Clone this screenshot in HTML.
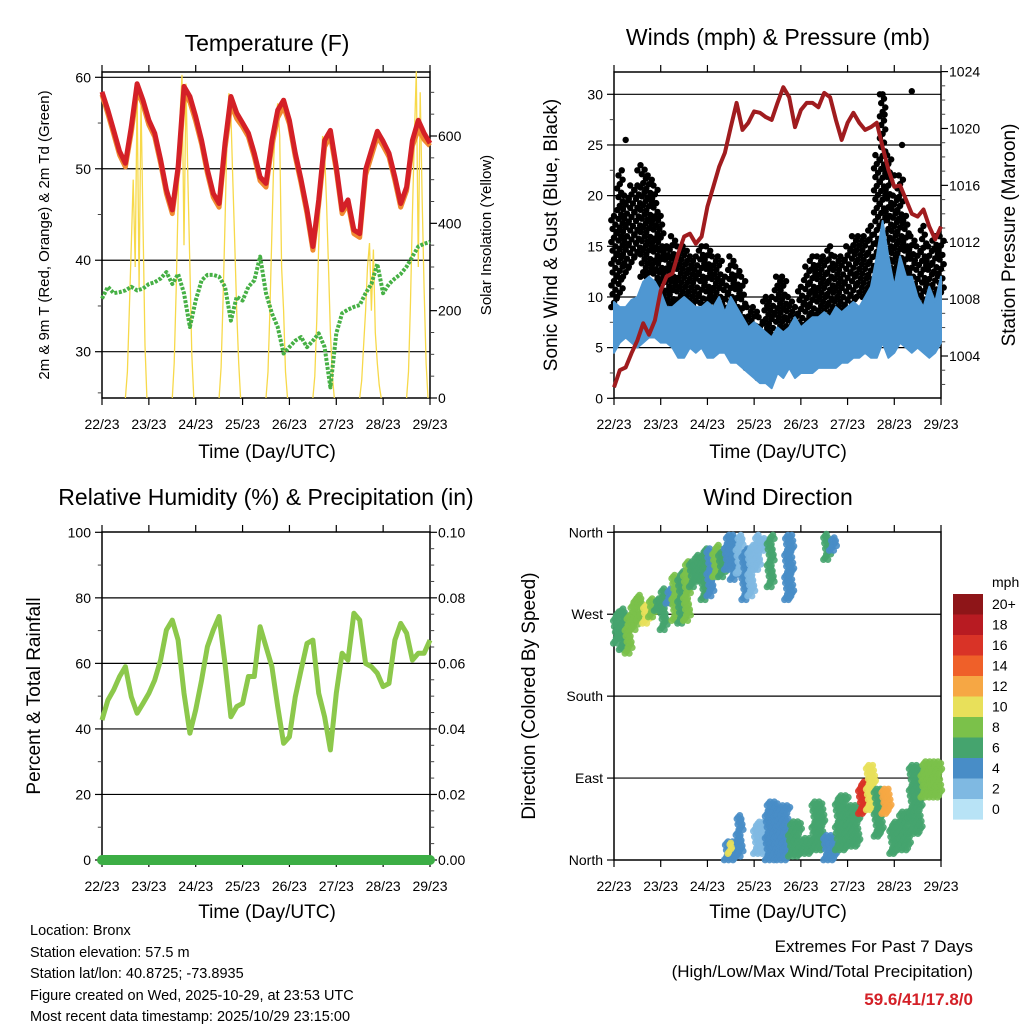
<!DOCTYPE html>
<html><head><meta charset="utf-8"><style>
html,body{margin:0;padding:0;background:#fff;}
svg{display:block;font-family:"Liberation Sans",sans-serif;}
</style></head><body>
<svg id="s" width="1024" height="1024" viewBox="0 0 1024 1024" xmlns="http://www.w3.org/2000/svg">
<g font-size="23" text-anchor="middle" fill="#000">
<text x="267" y="51">Temperature (F)</text>
<text x="778" y="45">Winds (mph) &amp; Pressure (mb)</text>
<text x="266" y="505">Relative Humidity (%) &amp; Precipitation (in)</text>
<text x="778" y="505">Wind Direction</text>
</g>
<g font-size="19" text-anchor="middle">
<text x="267" y="458">Time (Day/UTC)</text>
<text x="778" y="458">Time (Day/UTC)</text>
<text x="267" y="918">Time (Day/UTC)</text>
<text x="778" y="918">Time (Day/UTC)</text>
<text transform="translate(49,235) rotate(-90)" font-size="15">2m &amp; 9m T (Red, Orange) &amp; 2m Td (Green)</text>
<text transform="translate(491,235) rotate(-90)" font-size="15">Solar Insolation (Yellow)</text>
<text transform="translate(557,235) rotate(-90)">Sonic Wind &amp; Gust (Blue, Black)</text>
<text transform="translate(1015,235) rotate(-90)">Station Pressure (Maroon)</text>
<text transform="translate(40,696) rotate(-90)">Percent &amp; Total Rainfall</text>
<text transform="translate(535,696) rotate(-90)">Direction (Colored By Speed)</text>
</g>
<g font-size="14.5">
<text x="30" y="935">Location: Bronx</text>
<text x="30" y="957">Station elevation: 57.5 m</text>
<text x="30" y="978">Station lat/lon: 40.8725; -73.8935</text>
<text x="30" y="1000">Figure created on Wed, 2025-10-29, at 23:53 UTC</text>
<text x="30" y="1021">Most recent data timestamp: 2025/10/29 23:15:00</text>
</g>
<g font-size="17" text-anchor="end">
<text x="973" y="952">Extremes For Past 7 Days</text>
<text x="973" y="977">(High/Low/Max Wind/Total Precipitation)</text>
<text x="973" y="1005" fill="#d42027" font-weight="bold">59.6/41/17.8/0</text>
</g>
<g id="layer"></g>
</svg>
<script>
const dayLabels=["22/23","23/23","24/23","25/23","26/23","27/23","28/23","29/23"];
const tempRed=[58.4,56.4,54.2,51.9,50.6,54.6,59.3,57.5,55.3,53.9,51,47.7,45.5,50.2,59,57.9,55.7,53.1,49.9,47.3,46.2,52.8,57.9,56.1,55,53.9,51.7,49.1,48.4,53.1,56.4,57.5,55.3,51.7,48.8,45.5,41.5,46.6,53.1,54.2,50.2,45.5,46.6,43.3,42.9,49.9,52,54.1,53,51.7,49.1,46.2,48,53.1,55.3,53.9,52.8];
const tempOrange=[58.1,56,53.8,51.5,50.2,54,58.6,57,54.8,53.5,50.6,47.3,45.1,49.8,58.2,57.3,55.2,52.7,49.5,46.9,45.8,52.2,57.1,55.5,54.6,53.5,51.3,48.7,48,52.5,55.6,56.8,54.9,51.3,48.4,45.1,41.1,46.1,52.4,53.6,49.8,45.1,46.2,42.9,42.5,49.3,51.4,53.5,52.5,51.3,48.7,45.8,47.6,52.5,54.3,53.2,52.5];
const dewpoint=[35.8,37.1,36.4,36.5,36.7,37.1,36.7,36.9,37.4,37.6,38,38.7,37.4,38.5,36.4,32.7,35.6,37.8,38.4,38.4,38.2,37.1,33.4,36,35.6,37.1,37.8,40.4,36.4,34.2,32.7,29.8,30.5,31.2,31.6,30.5,31.2,32,30.5,26.1,32,34.2,34.6,34.9,35.1,36.4,37.4,39.6,36.4,37.4,38,38.5,39.3,40.4,41.5,41.8,42];
const solarHours=[12,13,14,15,16,17,18,19,20,21,22,23];
const solarDay0=[0,60,200,350,500,300,700,250,680,400,120,0];
const solarDay1=[0,80,250,450,650,740,350,720,500,300,100,0];
const solarDay2=[0,70,220,400,600,698,650,500,350,200,80,0];
const solarDay3=[0,60,200,380,550,640,675,600,300,200,60,0];
const solarDay4=[0,50,180,350,500,600,560,450,300,150,50,0];
const solarDay5=[0,40,120,200,300,355,200,340,150,80,30,0];
const solarDay6=[0,60,220,420,600,748,300,700,450,250,80,0];
const pressure=[1001.8,1003,1003.2,1004.2,1005.1,1006.3,1005.5,1006.5,1008.6,1009.6,1009.8,1011.2,1012.4,1012.6,1011.9,1012.4,1014.5,1015.9,1017.3,1018.3,1020.1,1021.8,1019.9,1020.4,1021.2,1021.1,1020.8,1020.6,1021.8,1022.9,1022.2,1020.1,1021.3,1021.8,1021.8,1021.5,1022.5,1022.2,1020.6,1019.2,1020.4,1021.1,1020.4,1019.9,1020.1,1020.4,1018.7,1017.1,1015.9,1016,1015,1014,1013.8,1014.3,1013.1,1012.2,1013.1];
const windHigh=[9.5,9,9,9.7,10,11.5,12,11.5,10.5,9,9,9.5,10,9.5,9,9,9.5,9,10,8.5,10,9,8,7,7.5,7,6.5,6,7,6.5,7,8,7,7.5,8,8,8.5,8,9,8.5,9,9.5,9,10,11,14,17.5,14,11,14,12,12,10,9,11,9.5,12];
const windLow=[4.5,5.5,6,5.5,5,5.5,6,6,5.5,5.5,5,4,4,5,4.5,5,4,4,4.5,4.5,3.5,3.5,3,2.5,2,1.5,1.5,1,2.5,2,3,2,2.5,2.5,2.5,3,3,3,3,3.5,3.5,4,4,4.5,4,4,5.5,4,4.5,5.5,5,4.5,5,4.5,4,4.5,5.5];
const gustLow=[9,10,12,13,14,12,12,11,9,8,8,7,7,7,7,6,7,6,6,5,6,5,4,3,3,2,3,3,4,4,4,4,4,5,5,6,6,6,6,6,7,8,10,10,10,14,17,12,10,10,9,8,9,8,9,9,10];
const gustHigh=[18,22,20,21,21,23,22,21,18,15,16,15,15,14,14,15,15,14,14,12,14,13,12,9,9,8,10,10,12,12,10,9,11,13,14,14,14,15,14,14,15,16,16,16,17,24,30,24,20,22,18,16,15,17,15,16,16];
const gustOutlierHours=[4,6,12,138,139,153,144,148];
const gustOutlierValues=[22.5,25.5,22.5,30,28,30.3,22,25];
const rhValues=[42.7,48.8,51.9,56,59,49.8,44.8,47.8,50.9,54.9,61,70.2,73.2,67.1,50.9,38.7,45.8,54.9,65.1,70.2,74.3,60,43.7,46.8,47.8,56,56,71.2,65.1,59,46.8,35.6,37.6,49.8,58,66.1,67.1,50.9,43.7,33.6,50.9,63.1,61,75.3,73.2,60,59,57,52.9,53.9,67.1,72.2,69.2,61,63.1,63.1,67.1];
const precip=[0,0];
const dirStart=[0,3,6,9,12,15,18,21,24,27,30,33,36,39,42,45,48,51,54,57,60,63,66,69,72,75,79,88,108,111,57,59,63,72,78,84,90,96,102,108,114,120,126,130,134,138,142,146,152,158];
const dirEnd=[3,6,9,12,15,18,21,24,27,30,33,36,39,42,45,48,51,54,57,60,63,66,69,72,75,78,82,92,111,114,63,60,66,78,84,90,96,102,108,114,120,126,130,134,138,142,146,152,158,168];
const dirLow=[238,231,227,253,264,260,267,274,253,282,263,260,263,300,307,286,290,311,311,319,308,315,286,290,319,340,300,286,330,340,0,7,4,7,0,0,4,7,11,0,11,15,51,55,26,51,7,11,29,69];
const dirHigh=[275,278,271,289,293,282,289,289,300,300,315,319,330,330,337,344,344,348,340,359,359,359,344,348,359,355,359,359,360,356,22,22,51,44,66,62,44,26,66,29,73,62,88,106,80,80,44,55,106,110];
const dirSpeed=[7,7,9,8,9,10,8,7,6,4,8,7,8,6,7,6,5,8,7,4,4,3,4,3,2,3,6,5,6,4,4,10,4,3,4,5,6,7,6,5,7,7,17,10,6,12,7,6,7,9];
const cbLabels=["20+","18","16","14","12","10","8","6","4","2","0"];
const cbColors=["#8e1518","#b81b22","#d93327","#ef6029","#f6a744","#e8e05a","#7bc14a","#45a46e","#488dc7","#7fb9e2","#b8e3f6"];

const NS="http://www.w3.org/2000/svg";
const layer=document.getElementById('layer');
function mk(tag,attrs,parent){const e=document.createElementNS(NS,tag);for(const k in attrs)e.setAttribute(k,attrs[k]);(parent||layer).appendChild(e);return e;}
function lin(d0,d1,r0,r1){return v=>r0+(v-d0)/(d1-d0)*(r1-r0);}

const panels={
 temp:{x0:102,x1:430,y0:72,y1:398},
 wind:{x0:614,x1:941,y0:72,y1:398},
 rh:{x0:102,x1:430,y0:532,y1:860},
 dir:{x0:614,x1:941,y0:532,y1:860}
};
function frame(p,name){
  const g=mk('g',{});
  
  
  mk('rect',{x:p.x0,y:p.y0,width:p.x1-p.x0,height:p.y1-p.y0,fill:'none',stroke:'#000','stroke-width':1.5},g);
  const xs=lin(0,168,p.x0,p.x1);
  dayLabels.forEach((lab,i)=>{
    const x=xs(i*24);
    mk('line',{x1:x,x2:x,y1:p.y1,y2:p.y1+7,stroke:'#000','stroke-width':1.2},g);
    mk('line',{x1:x,x2:x,y1:p.y0,y2:p.y0-7,stroke:'#000','stroke-width':1.2},g);
    const t=mk('text',{x:x,y:p.y1+31,'font-size':14,'text-anchor':'middle'},g);
    t.textContent=lab;
    
    
  });
  return {g,xs};
}
function grid(p,ys,vals,g){vals.forEach(v=>{const y=ys(v);mk('line',{x1:p.x0,x2:p.x1,y1:y,y2:y,stroke:'#000','stroke-width':1.2},g);});}
function yTicks(p,ys,vals,labels,side,g,minor){
  const xe=side==='l'?p.x0:p.x1, d=side==='l'?-7:7;
  vals.forEach((v,i)=>{const y=ys(v);
    mk('line',{x1:xe,x2:xe+d,y1:y,y2:y,stroke:'#000','stroke-width':1.2},g);
    const t=mk('text',{x:side==='l'?xe-11:xe+8,y:y+5,'font-size':14,'text-anchor':side==='l'?'end':'start'},g);
    t.textContent=labels[i];
    
    
  });
  (minor||[]).forEach(v=>{const y=ys(v);mk('line',{x1:xe,x2:xe+d*0.6,y1:y,y2:y,stroke:'#444','stroke-width':1},g);});
}
function pts(arr,xs,ys,step){return arr.map((v,i)=>xs(i*step).toFixed(1)+','+ys(v).toFixed(1)).join(' ');}

// ---- Temperature panel
(function(){
  const p=panels.temp;const {g,xs}=frame(p,'temperature');
  const ys=lin(60,30,77.3,351.7); const ss=lin(0,600,398,136);
  grid(p,ys,[60,50,40,30],g);
  yTicks(p,ys,[60,50,40,30],["60","50","40","30"],'l',g,[55,45,35,25.5]);
  yTicks(p,ss,[0,200,400,600],["0","200","400","600"],'r',g,[50,100,150,250,300,350,450,500,550,650,700]);
  const sd=[solarDay0,solarDay1,solarDay2,solarDay3,solarDay4,solarDay5,solarDay6];
  sd.forEach((arr,d)=>{
    const pl=mk('polyline',{points:arr.map((v,i)=>xs(d*24+solarHours[i]).toFixed(1)+','+ss(v).toFixed(1)).join(' '),fill:'none',stroke:'#f7d94a','stroke-width':1.3});
    
    
  });
  const dp=mk('polyline',{points:pts(dewpoint,xs,ys,3),fill:'none',stroke:'#46b045','stroke-width':4,'stroke-dasharray':'3 1.5','stroke-linejoin':'round'});
  
  
  const o=mk('polyline',{points:pts(tempOrange,xs,ys,3),fill:'none',stroke:'#f08a30','stroke-width':5,'stroke-linejoin':'round'});
  
  
  const r=mk('polyline',{points:pts(tempRed,xs,ys,3),fill:'none',stroke:'#d42027','stroke-width':5,'stroke-linejoin':'round'});
  
  
})();

// ---- Wind panel
(function(){
  const p=panels.wind;const {g,xs}=frame(p,'winds');
  const ys=lin(0,30,398.3,94.3); const ps=lin(1004,1024,356,71.6);
  grid(p,ys,[5,10,15,20,25,30],g);
  yTicks(p,ys,[0,5,10,15,20,25,30],["0","5","10","15","20","25","30"],'l',g,[2.5,7.5,12.5,17.5,22.5,27.5]);
  yTicks(p,ps,[1004,1008,1012,1016,1020,1024],["1004","1008","1012","1016","1020","1024"],'r',g,[1002,1003,1005,1006,1007,1009,1010,1011,1013,1014,1015,1017,1018,1019,1021,1022,1023]);
  const gg=mk('g',{fill:'#000'});
  
  
  gustLow.forEach((lo,i)=>{
    const hi=gustHigh[i]; const n=Math.max(4,Math.round((hi-lo)*2.4));
    for(let j=0;j<n;j++){
      const v=lo+(hi-lo)*j/(n-1); const dx=((j*7)%5-2)*0.7;
      mk('circle',{cx:xs(i*3+dx).toFixed(1),cy:ys(v).toFixed(1),r:3.2},gg);
    }
  });
  gustOutlierHours.forEach((h,i)=>{mk('circle',{cx:xs(h),cy:ys(gustOutlierValues[i]),r:3.2},gg);});
  const band=windHigh.map((v,i)=>xs(i*3).toFixed(1)+','+ys(v).toFixed(1)).concat(windLow.map((v,i)=>xs(i*3).toFixed(1)+','+ys(v).toFixed(1)).reverse()).join(' ');
  const b=mk('polygon',{points:band,fill:'#4f97d2',stroke:'#4f97d2','stroke-width':2,'stroke-linejoin':'round'});
  
  
  const pr=mk('polyline',{points:pts(pressure,xs,ps,3),fill:'none',stroke:'#a01c1f','stroke-width':4,'stroke-linejoin':'round'});
  
  
})();

// ---- RH panel
(function(){
  const p=panels.rh;const {g,xs}=frame(p,'humidity');
  const ys=lin(0,100,860,532.3); const rs=lin(0,0.1,860,532.3);
  grid(p,ys,[20,40,60,80],g);
  yTicks(p,ys,[0,20,40,60,80,100],["0","20","40","60","80","100"],'l',g,[10,30,50,70,90]);
  yTicks(p,rs,[0,0.02,0.04,0.06,0.08,0.1],["0.00","0.02","0.04","0.06","0.08","0.10"],'r',g,[0.005,0.01,0.015,0.025,0.03,0.035,0.045,0.05,0.055,0.065,0.07,0.075,0.085,0.09,0.095]);
  const rh=mk('polyline',{points:pts(rhValues,xs,ys,3),fill:'none',stroke:'#8cc84b','stroke-width':5,'stroke-linejoin':'round'});
  
  
  const pc=mk('polyline',{points:pts(precip,xs,rs,168),fill:'none',stroke:'#3cae45','stroke-width':10,'stroke-linecap':'round'});
  
  
})();

// ---- Direction panel
(function(){
  const p=panels.dir;const {g,xs}=frame(p,'direction');
  const ys=lin(0,360,860,532.3);
  grid(p,ys,[90,180,270],g);
  yTicks(p,ys,[0,90,180,270,360],["North","East","South","West","North"],'l',g,[]);
  const dg=mk('g',{});
  
  
  dirStart.forEach((t0,i)=>{
    const t1=dirEnd[i],lo=dirLow[i],hi=dirHigh[i],sp=dirSpeed[i];
    const ci=Math.max(0,Math.min(10,10-Math.floor(sp/2)));
    const nt=Math.max(2,Math.round((t1-t0)*1.4)), nd=Math.max(2,Math.round((hi-lo)/6));
    for(let a=0;a<nt;a++)for(let b=0;b<nd;b++){
      const t=t0+(t1-t0)*(a+0.5)/nt+((b*3)%4-1.5)*0.5, d=lo+(hi-lo)*(b+((a%3)*0.33))/nd;
      mk('circle',{cx:xs(t).toFixed(1),cy:ys(Math.min(d,360)).toFixed(1),r:3.4,fill:cbColors[ci],opacity:0.9},dg);
    }
  });
  const cb=mk('g',{});
  
  
  cbColors.forEach((c,i)=>{
    mk('rect',{x:953,y:(594+i*20.5).toFixed(1),width:30,height:20.6,fill:c},cb);
    const t=mk('text',{x:992,y:(609+i*20.5).toFixed(1),'font-size':14},cb);
    t.textContent=cbLabels[i];
  });
  const u=mk('text',{x:992,y:587,'font-size':14},cb);u.textContent='mph';
})();
</script>
</body></html>
